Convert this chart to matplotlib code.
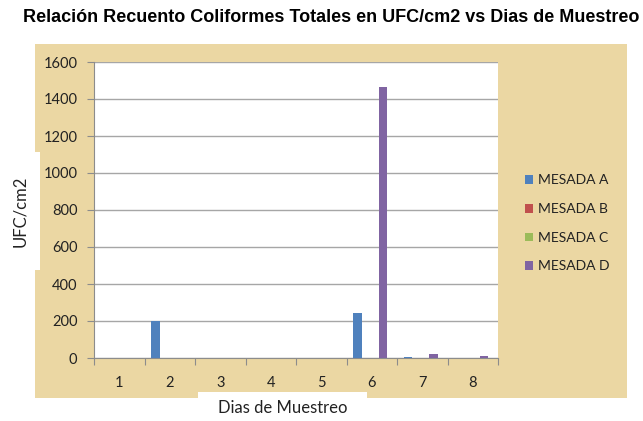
import numpy as np
import matplotlib.pyplot as plt
from matplotlib.patches import Rectangle

# data
dias = ['1', '2', '3', '4', '5', '6', '7', '8']
mesada_a = [0, 200, 0, 0, 0, 243, 3, 0]
mesada_b = [0, 0, 0, 0, 0, 0, 0, 0]
mesada_c = [0, 0, 0, 0, 0, 0, 0, 0]
mesada_d = [0, 0, 0, 0, 0, 1465, 22, 10]
series = ['MESADA A', 'MESADA B', 'MESADA C', 'MESADA D']
colors = ['#4F81BD', '#C0504D', '#9BBB59', '#8064A2']

W, H = 643, 421
fig = plt.figure(figsize=(W / 100, H / 100), dpi=100, facecolor='white')

# parchment background
fig.patches.append(Rectangle((35 / W, 1 - 398 / H), (627 - 35) / W, (398 - 44) / H,
                             transform=fig.transFigure, facecolor='#EBD7A3',
                             edgecolor='none', zorder=-10))

ax = fig.add_axes([94 / W, 1 - 358 / H, (498 - 94) / W, (358 - 62) / H])
ax.set_facecolor('white')

index = np.arange(1, len(dias) + 1)
bar_width = 1 / 6
for k, (vals, name, c) in enumerate(zip([mesada_a, mesada_b, mesada_c, mesada_d], series, colors)):
    ax.bar(index + (k - 1.5) * bar_width - 0.03, vals, bar_width, color=c, label=name, zorder=3)

ax.set_xlim(0.5, 8.5)
ax.set_ylim(0, 1600)
ax.set_yticks(np.arange(0, 1601, 200))
ax.yaxis.grid(True, color='#A6A6A6', lw=1, zorder=0)

ax.set_xticks(np.arange(0.5, 8.6, 1))
ax.set_xticklabels([])
ax.set_xticks(index, minor=True)
ax.set_xticklabels(dias, minor=True)
ax.tick_params(axis='x', which='major', length=5, color='#8C8C8C', direction='out')
ax.tick_params(axis='x', which='minor', length=0, pad=13, labelsize=10.5, labelcolor='#222222')
ax.tick_params(axis='y', length=5, color='#8C8C8C', pad=7, labelsize=10.5, labelcolor='#222222')
for lab in ax.get_xticklabels(minor=True) + ax.get_yticklabels():
    lab.set_fontfamily('Lato')

for s in ['top', 'right']:
    ax.spines[s].set_visible(False)
for s in ['left', 'bottom']:
    ax.spines[s].set_color('#8C8C8C')

# title
fig.text(331 / W, 1 - 17 / H, 'Relación Recuento Coliformes Totales en UFC/cm2 vs Dias de Muestreo',
         ha='center', va='center', fontsize=13, fontweight='bold', family='Liberation Sans')

# axis labels in white boxes
fig.patches.append(Rectangle((0, 1 - 270 / H), 40 / W, (270 - 152) / H,
                             transform=fig.transFigure, facecolor='white', edgecolor='none', zorder=1))
fig.text(20 / W, 1 - 211 / H, 'UFC/cm2', rotation=90, ha='center', va='center',
         fontsize=12, family='Lato', color='#222222')
fig.patches.append(Rectangle((198 / W, 0), (367 - 198) / W, (421 - 392) / H,
                             transform=fig.transFigure, facecolor='white', edgecolor='none', zorder=1))
fig.text(283 / W, 1 - 408 / H, 'Dias de Muestreo', ha='center', va='center',
         fontsize=12, family='Lato', color='#222222')

ax.legend(loc='upper left', bbox_to_anchor=(512 / W, 1 - 162 / H), bbox_transform=fig.transFigure,
          frameon=False, handlelength=0.6, handleheight=0.6, handletextpad=0.4,
          labelspacing=1.2, prop={'family': 'Lato', 'size': 10}, labelcolor='#222222')

plt.savefig('out.png', dpi=100, facecolor='white')
